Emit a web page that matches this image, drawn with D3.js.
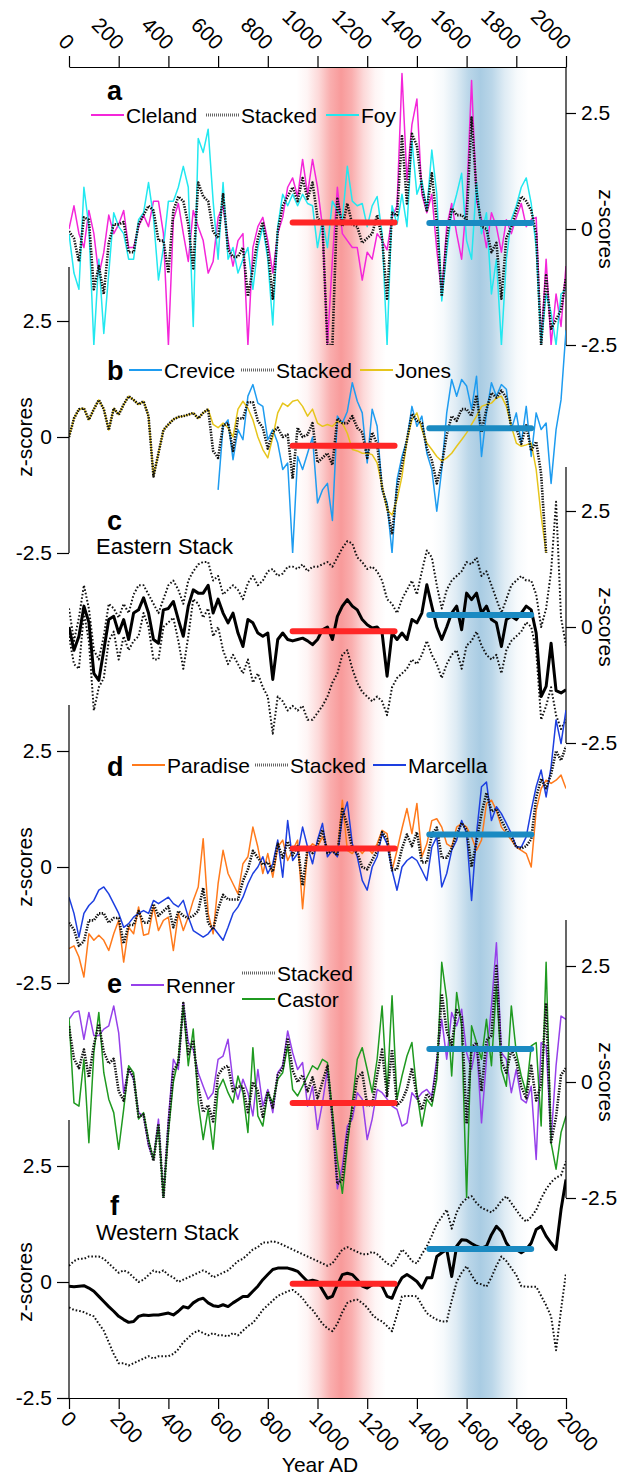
<!DOCTYPE html>
<html>
<head>
<meta charset="utf-8">
<script src="https://cdn.jsdelivr.net/npm/d3@7"></script>
<style>
  body { margin: 0; background: #fff; }
  svg { display: block; }
</style>
</head>
<body>
<div id="chart"></div>
<script>
// ---- data (z-scores, 20-year steps) ----
const years = [0,20,40,60,80,100,120,140,160,180,200,220,240,260,280,300,320,340,360,380,
  400,420,440,460,480,500,520,540,560,580,600,620,640,660,680,700,720,740,760,780,
  800,820,840,860,880,900,920,940,960,980,1000,1020,1040,1060,1080,1100,1120,1140,1160,1180,
  1200,1220,1240,1260,1280,1300,1320,1340,1360,1380,1400,1420,1440,1460,1480,1500,1520,1540,1560,1580,
  1600,1620,1640,1660,1680,1700,1720,1740,1760,1780,1800,1820,1840,1860,1880,1900,1920,1940,1960,1980,2000];
const yearTicks = [0,200,400,600,800,1000,1200,1400,1600,1800,2000];
const zTicks = [-2.5, 0, 2.5];

// panel a
const cleland = [0,0.5,-0.1,-0.4,0.4,-0.1,-1.0,-0.5,0.3,-0.1,
  0.1,0.4,-0.4,-0.4,0.05,0.3,0.05,0.6,0.6,-0.1,
  -2.5,0.2,0.55,-0.1,-0.7,0.4,0.05,-0.25,-0.95,-0.7,
  0.25,0.5,-0.25,-0.8,-0.25,-0.1,-2.5,-0.4,0.05,0.25,
  -0.25,-0.95,-0.1,0.25,0.9,1.1,0.7,1.5,0.75,1.5,
  0.9,0.05,-2.5,-0.65,0.9,-0.1,-0.25,-0.4,-0.4,-1.1,
  -0.5,-0.65,-0.1,-0.25,-0.45,0.25,0.5,3.35,1.05,2.25,
  2.8,0.75,0.35,0.75,-0.45,-1.4,0.05,0.55,-0.1,-0.65,
  0.6,3.2,0.6,0.2,-0.4,0.35,0.05,-0.5,0.2,-0.1,
  0.25,0.55,0.05,0.2,0.25,-2.5,-0.65,-2.5,-1.4,-2.1,
  -0.8];
const foy = [-0.1,-0.95,-1.3,0.9,0.05,-2.5,-0.65,-2.25,-0.95,0.35,
  0.05,-0.1,-0.65,-0.65,0.2,0.35,1.0,0.25,-1.1,-0.4,
  0.6,0.6,0.9,1.35,0.9,-2.1,1.95,1.65,2.15,0.6,
  -0.65,1.0,-0.65,-0.4,-0.95,-0.65,-0.4,-1.3,-0.4,0.05,
  -0.65,-2.07,0.05,0.75,0.5,0.75,0.5,0.75,0.55,0.5,
  -0.4,0.2,-0.4,0.6,0.4,0.2,1.35,0.6,0.5,0.55,
  0.05,0.5,0.7,-0.1,-2.5,0.5,0.1,0.75,0.05,1.9,
  0.75,1.05,0.4,1.7,0.75,-1.55,-0.5,0.35,0.75,1.2,
  -0.25,-0.65,1.0,-0.1,0.35,-1.4,-0.65,-2.5,-0.65,0.2,
  0.5,0.9,1.1,0.55,-0.4,-2.5,-1.4,-1.8,-2.5,-1.4,
  -1.3];
const stackA = [-0.05,-0.2,-0.7,0.25,0.2,-1.3,-0.8,-1.4,-0.3,0.1,
  0.1,0.15,-0.5,-0.5,0.1,0.3,0.5,0.4,-0.25,-0.25,
  -0.95,0.4,0.7,0.6,0.1,-0.85,1.0,0.7,0.6,-0.05,
  -0.2,0.75,-0.45,-0.6,-0.6,-0.4,-1.45,-0.85,-0.2,0.15,
  -0.45,-1.5,-0.05,0.5,0.7,0.9,0.6,1.1,0.65,1.0,
  0.25,0.1,-2.5,-2.5,0.65,0.05,0.55,0.1,0.05,-0.3,
  -0.2,-0.1,0.3,-0.2,-1.5,0.35,0.3,2.0,0.55,2.05,
  1.8,0.9,0.4,1.2,0.15,-1.45,-0.2,0.45,0.3,0.3,
  0.2,2.4,0.8,0.05,0.0,-0.5,-0.3,-1.5,-0.2,0.05,
  0.4,0.7,0.6,0.4,-0.1,-2.5,-1.0,-2.15,-1.95,-1.75,
  -1.05];

// panel b
const crevice = [null,null,null,null,null,null,null,null,null,null,
  null,null,null,null,null,null,null,null,null,null,
  null,null,null,null,null,null,null,null,null,null,
  -1.14,0.23,0.37,-0.49,0.16,-0.06,0.88,1.13,0.73,0.66,
  -0.06,0.16,-0.13,-0.7,-0.56,-2.5,-0.42,-0.7,-0.35,0.0,
  -1.42,-1.14,-1.0,-1.8,0.45,0.3,0.55,1.17,0.77,0.52,
  -0.56,0.6,0.23,-1.14,-1.42,-2.5,-0.92,-0.42,-0.06,0.66,
  0.23,0.45,-0.35,-0.7,-1.6,-0.7,0.52,1.24,0.88,1.24,
  1.1,0.6,1.31,-0.42,0.52,1.17,0.88,1.13,1.03,0.16,
  0.52,-0.13,0.66,-0.42,0.52,0.16,0.3,-1.0,0.16,0.8,
  2.3];
const jones = [0.0,0.4,0.6,0.62,0.37,0.6,0.8,0.6,0.15,0.62,
  0.48,0.7,0.88,0.8,0.7,0.77,0.45,-0.85,-0.35,0.15,
  0.27,0.38,0.43,0.45,0.48,0.52,0.4,0.52,0.6,0.27,
  0.2,0.3,0.2,0.0,0.6,0.77,0.62,0.37,0.0,-0.27,
  -0.45,0.0,0.52,0.73,0.66,0.77,0.8,0.66,0.45,0.6,
  0.3,0.23,0.27,0.23,0.34,0.3,0.08,-0.27,-0.3,-0.35,
  -0.35,-0.38,-0.56,-1.06,-1.57,-1.68,-1.35,-0.85,-0.06,0.37,
  0.52,0.16,-0.13,-0.27,-0.42,-0.52,-0.45,-0.35,-0.2,-0.06,
  0.09,0.27,0.45,0.66,0.7,0.73,0.84,0.88,0.66,0.23,
  -0.13,-0.2,-0.17,-0.13,-0.7,-1.7,-2.5,null,null,null,
  null];
const stackB = [0.0,0.4,0.6,0.62,0.37,0.6,0.8,0.6,0.15,0.62,
  0.48,0.7,0.88,0.8,0.7,0.77,0.45,-0.85,-0.35,0.15,
  0.27,0.38,0.43,0.45,0.48,0.52,0.4,0.52,0.6,-0.3,
  -0.45,0.25,0.3,-0.3,0.4,0.4,0.75,0.75,0.35,0.2,
  -0.25,0.1,0.2,0.0,0.05,-0.9,0.2,0.0,0.05,0.3,
  -0.55,-0.45,-0.35,-0.6,0.4,0.3,0.3,0.45,0.2,0.1,
  -0.45,0.1,-0.15,-1.1,-1.5,-2.1,-1.1,-0.6,-0.06,0.5,
  0.35,0.3,-0.25,-0.5,-1.0,-0.6,0.05,0.45,0.35,0.6,
  0.6,0.45,0.9,0.1,0.6,0.95,0.85,1.0,0.85,0.2,
  0.2,-0.15,0.25,-0.3,-0.1,-0.8,-2.5,null,null,null,
  null];

// panel c (Eastern stack with envelope)
const eastern = [0.0,-0.5,-0.2,0.45,0.1,-1.0,-1.15,-0.5,0.16,0.23,
  -0.13,0.16,-0.27,0.3,0.37,0.63,0.3,-0.27,-0.35,0.37,
  0.4,0.55,0.16,-0.2,0.45,0.8,0.73,0.73,0.9,0.3,
  0.6,0.3,0.09,0.3,-0.13,-0.42,0.16,0.09,-0.13,-0.2,
  -0.13,-1.13,-0.27,-0.13,-0.27,-0.3,-0.27,-0.24,-0.3,-0.38,
  -0.27,-0.06,0.0,-0.27,0.23,0.45,0.59,0.45,0.37,0.16,
  0.05,-0.02,0.0,-0.13,-1.06,-0.13,-0.27,-0.13,-0.27,0.16,
  0.09,0.3,0.91,0.45,0.0,-0.27,0.0,0.3,0.45,-0.06,
  0.73,0.59,0.73,0.3,0.45,0.16,0.09,-0.42,0.16,0.23,
  0.16,0.3,0.45,0.37,-0.13,-1.5,-1.28,-0.35,-1.37,-1.42,
  -1.35];
const easternHi = [0.4,-0.3,0.2,0.9,0.4,-0.5,-0.7,-0.2,0.5,0.4,
  0.2,0.5,0.3,0.7,0.9,0.9,0.7,0.5,0.3,0.6,
  0.9,1.0,0.8,0.5,1.0,1.2,1.35,1.4,1.4,1.0,
  1.1,0.7,0.8,0.9,0.8,0.6,0.95,1.1,0.9,1.0,
  1.2,1.25,1.1,1.15,1.3,1.3,1.25,1.35,1.2,1.3,
  1.3,1.35,1.4,1.3,1.5,1.7,1.85,1.8,1.5,1.4,
  1.25,1.3,1.2,1.0,0.6,0.5,0.3,0.6,0.8,1.0,
  0.7,1.2,1.65,1.5,0.9,0.4,0.8,1.0,1.1,1.2,
  1.4,1.35,1.5,1.1,1.2,0.9,0.6,0.3,0.6,0.9,
  1.0,1.1,1.0,1.0,0.7,0.0,0.4,1.2,2.7,0.2,
  -0.4];
const easternLo = [-0.2,-0.8,-0.9,0.3,-0.3,-1.8,-1.3,-1.1,-0.3,-0.1,
  -0.7,-0.2,-0.5,-0.3,-0.2,0.3,0.0,-0.7,-0.7,0.0,
  0.1,0.2,-0.3,-0.9,-0.2,0.6,0.5,0.2,0.4,-0.2,
  0.0,-0.5,-0.8,-0.6,-0.8,-1.0,-0.7,-1.2,-1.0,-1.3,
  -1.5,-2.3,-1.5,-1.6,-1.8,-1.7,-1.8,-1.7,-2.0,-2.0,
  -1.85,-1.7,-1.5,-1.2,-1.0,-0.6,-0.5,-0.9,-1.2,-1.4,
  -1.5,-1.6,-1.5,-1.6,-1.9,-1.3,-1.1,-1.0,-0.9,-0.7,
  -0.8,-0.6,-0.3,-0.6,-0.8,-1.1,-0.8,-0.6,-0.5,-0.9,
  -0.4,-0.3,-0.1,-0.4,-0.6,-0.7,-0.6,-1.0,-0.5,-0.3,
  -0.2,-0.1,0.1,0.0,-0.5,-2.0,-1.7,-1.3,-1.9,-2.2,
  -2.0];

// panel d
const paradise = [-1.76,-1.7,-1.94,-2.37,-1.44,-1.58,-1.47,-1.58,-1.8,-1.44,
  -1.15,-2.05,-1.3,-1.44,-0.86,-1.47,-1.44,-0.86,-1.37,-1.15,
  -1.08,-1.8,-1.0,-1.37,-1.08,-0.72,-0.43,0.61,-1.0,-1.44,
  -0.36,0.36,-0.14,-0.36,-0.58,0.07,0.22,0.86,0.43,-0.14,
  0.29,-0.22,0.43,0.58,0.14,0.36,0.58,-0.9,0.36,0.5,
  0.43,0.65,0.43,0.36,0.29,1.44,0.36,0.29,0.43,0.29,
  0.43,0.29,0.5,0.79,0.72,-0.07,0.36,0.83,1.26,0.72,
  1.37,0.22,0.5,1.0,1.04,0.86,0.5,0.43,0.86,0.94,
  0.86,0.65,0.36,0.58,1.37,1.44,1.22,0.86,0.72,0.58,
  0.43,0.36,0.29,0.0,1.22,1.69,1.87,1.8,1.87,1.98,
  1.69];
const marcella = [-0.65,-1.0,-1.51,-1.0,-0.83,-0.72,-0.5,-0.43,-0.58,-0.79,
  -1.0,-1.3,-1.22,-1.08,-1.0,-0.94,-1.0,-0.72,-0.79,-0.72,
  -0.65,-0.79,-0.86,-0.72,-1.08,-1.37,-1.44,-1.51,-1.44,-1.3,
  -1.44,-1.58,-1.3,-1.0,-0.86,-0.65,-0.36,-0.14,0.0,0.22,
  -0.14,0.07,0.58,-0.22,1.0,0.14,0.29,0.86,0.43,0.07,
  0.58,0.94,0.22,0.36,0.22,1.08,1.4,0.5,0.22,-0.29,
  -0.5,0.0,0.22,0.72,0.5,-0.07,-0.5,0.0,0.14,0.22,
  0.14,-0.07,-0.29,0.43,0.65,-0.43,-0.14,0.36,0.58,1.0,
  0.72,-0.72,0.72,1.73,1.83,1.0,1.3,1.15,0.94,0.72,
  0.43,0.43,0.65,1.22,1.73,2.09,1.51,2.16,3.17,2.66,
  3.38];
const stackD = [-1.2,-1.35,-1.7,-1.6,-1.15,-1.15,-1.0,-1.0,-1.2,-1.1,
  -1.1,-1.65,-1.25,-1.25,-0.95,-1.2,-1.2,-0.8,-1.05,-0.95,
  -0.85,-1.3,-0.95,-1.05,-1.1,-1.05,-0.95,-0.45,-1.2,-1.35,
  -0.9,-0.6,-0.7,-0.7,-0.7,-0.3,-0.05,0.35,0.2,0.05,
  0.1,-0.1,0.5,0.2,0.55,0.25,0.45,-0.4,0.4,0.3,
  0.5,0.8,0.3,0.35,0.25,1.25,0.9,0.4,0.3,0.0,
  -0.05,0.15,0.35,0.75,0.6,-0.07,-0.05,0.4,0.7,0.45,
  0.75,0.1,0.1,0.7,0.85,0.2,0.2,0.4,0.7,0.95,
  0.8,0.0,0.55,1.15,1.6,1.2,1.25,1.0,0.8,0.65,
  0.43,0.4,0.45,0.6,1.5,1.9,1.7,2.0,2.5,2.3,
  2.6];

// panel e
const renner = [1.35,1.5,1.53,0.92,1.5,1.0,1.0,1.14,1.21,1.64,
  1.06,-0.23,0.27,0.06,-0.66,-0.73,-1.38,-1.67,-0.8,-2.5,
  -0.8,0.49,0.27,1.71,0.85,0.7,0.2,-0.09,-0.37,-0.23,
  0.49,0.56,0.92,0.0,-0.37,0.06,-0.23,-0.73,0.27,-0.52,
  -0.16,-0.66,0.2,0.35,1.1,0.63,0.27,0.42,-0.52,-0.09,
  -1.02,-0.45,0.27,-0.8,-2.3,-1.81,-0.95,-0.8,-0.23,-0.37,
  -1.24,-0.8,-0.16,-0.23,-0.37,-0.52,-0.59,-0.95,-0.88,-0.23,
  -0.37,-0.23,-0.16,-0.3,0.49,1.35,0.49,1.5,1.21,1.57,
  0.63,0.27,0.85,-0.88,0.49,1.64,3.0,0.63,0.49,-0.23,
  0.27,-0.37,-0.45,-0.09,-1.67,0.85,0.78,-1.24,0.35,1.42,
  1.35];
const castor = [1.39,-0.45,-0.52,0.49,-1.31,0.63,1.5,0.2,-0.37,-0.66,
  -1.45,-0.59,0.35,0.2,-0.8,-0.66,-1.24,-1.67,-0.95,-2.5,
  -1.09,0.0,0.49,1.64,0.35,1.14,-0.45,-1.24,-0.59,-1.45,
  -0.16,0.06,-0.23,-0.45,0.13,-0.23,-1.09,0.74,-0.73,-0.95,
  -0.23,-0.45,0.06,0.2,0.78,-0.16,-0.3,-0.09,0.13,0.35,
  0.27,0.49,0.42,-0.66,-1.67,-2.4,-1.38,-0.45,0.49,0.74,
  0.27,-0.23,0.49,1.64,-0.23,1.86,-0.37,0.13,0.56,0.85,
  -0.23,-0.95,-0.37,-0.52,0.06,2.58,1.78,0.13,1.93,1.21,
  -2.5,1.21,0.85,0.49,1.35,0.35,2.07,0.27,-0.09,1.64,
  0.63,0.13,-0.23,0.78,0.85,-0.95,2.58,-1.31,-1.88,-1.09,
  -0.73];
const stackE = [1.2,0.5,0.3,0.7,0.1,0.8,1.25,0.65,0.4,0.5,
  -0.2,-0.4,0.3,0.1,-0.75,-0.7,-1.3,-1.7,-0.9,-2.5,
  -0.95,0.25,0.4,1.7,0.6,0.9,-0.1,-0.65,-0.5,-0.85,
  0.15,0.3,0.35,-0.2,-0.1,-0.1,-0.65,0.0,-0.2,-0.75,
  -0.2,-0.55,0.15,0.3,0.95,0.25,0.0,0.15,-0.2,0.1,
  -0.35,0.0,0.35,-0.75,-2.2,-2.1,-1.15,-0.6,0.1,0.2,
  -0.5,-0.5,0.15,0.7,-0.3,0.7,-0.5,-0.4,-0.15,0.3,
  -0.3,-0.6,-0.25,-0.4,0.3,1.9,1.1,0.8,1.55,1.4,
  -0.9,0.75,0.85,-0.2,0.9,1.0,2.5,0.45,0.2,0.7,
  0.45,-0.1,-0.35,0.35,-0.4,-0.05,1.7,-1.3,-0.75,0.15,
  0.3];

// panel f (Western stack with envelope)
const western = [-0.09,-0.1,-0.09,-0.08,-0.13,-0.2,-0.31,-0.42,-0.53,-0.63,
  -0.74,-0.81,-0.87,-0.85,-0.74,-0.71,-0.72,-0.71,-0.71,-0.69,
  -0.67,-0.71,-0.63,-0.53,-0.56,-0.45,-0.38,-0.35,-0.45,-0.51,
  -0.53,-0.49,-0.53,-0.45,-0.38,-0.31,-0.31,-0.2,-0.09,0.05,
  0.16,0.27,0.3,0.3,0.3,0.27,0.23,0.12,0.01,0.04,
  0.01,-0.17,-0.35,-0.31,-0.06,0.16,0.19,0.16,0.05,-0.09,
  -0.13,-0.06,-0.02,-0.09,-0.31,-0.35,-0.09,0.09,0.16,0.09,
  0.01,-0.13,0.09,0.09,0.55,0.63,0.7,0.12,0.77,0.91,
  0.9,0.83,0.77,0.73,0.77,1.02,1.2,1.09,0.84,0.7,
  0.7,0.63,0.7,0.84,1.13,1.2,0.99,0.84,0.7,1.56,
  2.21];
const westernHi = [0.35,0.45,0.5,0.5,0.55,0.55,0.55,0.5,0.4,0.3,
  0.2,0.25,0.2,0.1,0.0,0.05,0.15,0.25,0.2,0.25,
  0.15,0.1,0.0,0.05,0.1,0.15,0.2,0.25,0.2,0.1,
  0.15,0.2,0.25,0.35,0.45,0.5,0.6,0.7,0.75,0.85,
  0.85,0.88,0.85,0.8,0.75,0.7,0.65,0.6,0.55,0.5,
  0.45,0.4,0.35,0.4,0.55,0.7,0.75,0.7,0.65,0.6,
  0.6,0.65,0.6,0.5,0.4,0.35,0.5,0.7,0.6,0.45,
  0.4,0.6,0.77,1.0,1.25,1.4,1.56,1.15,1.5,1.7,
  1.8,1.85,1.7,1.6,1.55,1.5,1.6,1.75,1.85,1.7,
  1.55,1.4,1.3,1.4,1.55,1.8,2.0,2.15,2.25,2.3,
  2.6];
const westernLo = [-0.55,-0.6,-0.62,-0.65,-0.7,-0.74,-0.9,-1.05,-1.3,-1.55,
  -1.75,-1.75,-1.8,-1.75,-1.7,-1.65,-1.6,-1.65,-1.6,-1.6,
  -1.6,-1.55,-1.45,-1.3,-1.2,-1.1,-1.05,-1.1,-1.15,-1.1,
  -1.15,-1.15,-1.17,-1.1,-1.15,-1.05,-0.95,-0.88,-0.75,-0.6,
  -0.5,-0.4,-0.3,-0.25,-0.2,-0.17,-0.25,-0.35,-0.5,-0.6,
  -0.75,-0.9,-1.0,-1.06,-0.9,-0.65,-0.45,-0.4,-0.38,-0.45,
  -0.55,-0.7,-0.8,-0.85,-0.95,-1.06,-0.7,-0.31,-0.3,-0.3,
  -0.31,-0.5,-0.67,-0.75,-0.81,-0.85,-0.85,-0.4,0.0,0.2,
  0.34,0.15,-0.02,-0.05,-0.1,0.1,0.35,0.55,0.45,0.3,
  0.15,-0.09,-0.1,-0.1,-0.1,-0.3,-0.5,-0.74,-1.47,-0.6,
  0.2];

// period means (panels a..f) for the warm and cold windows
const warmPeriod = [900, 1310];
const coldPeriod = [1450, 1860];
const warmMeans = [0.14, -0.19, -0.09, 0.4, -0.45, -0.04];
const coldMeans = [0.13, 0.19, 0.26, 0.7, 0.71, 0.71];

// ---- drawing ----
const W = 620, H = 1479;
const FONT = '"Liberation Sans", Arial, Helvetica, sans-serif';
const svg = d3.select('#chart').append('svg')
  .attr('width', W).attr('height', H)
  .attr('font-family', FONT);

const x = d3.scaleLinear().domain([0, 2000]).range([69, 566]);
const axisTop = 67, axisBottom = 1398;
const halfSpan = 116; // px for 2.5 z

const defs = svg.append('defs');
function bandGradient(id, color) {
  const g = defs.append('linearGradient').attr('id', id).attr('x1', 0).attr('x2', 1).attr('y1', 0).attr('y2', 0);
  const stops = [[0, 0], [0.12, 0.1], [0.25, 0.38], [0.38, 0.8], [0.5, 1], [0.62, 0.8], [0.75, 0.38], [0.88, 0.1], [1, 0]];
  stops.forEach(([o, a]) => g.append('stop').attr('offset', o).attr('stop-color', color).attr('stop-opacity', a));
}
bandGradient('warm', '#f89a9a');
bandGradient('cold', '#a9cce3');

svg.append('rect').attr('x', x(915)).attr('width', x(1275) - x(915))
  .attr('y', axisTop).attr('height', axisBottom - axisTop).attr('fill', 'url(#warm)');
svg.append('rect').attr('x', x(1460)).attr('width', x(1850) - x(1460))
  .attr('y', axisTop).attr('height', axisBottom - axisTop).attr('fill', 'url(#cold)');

// year axes
const yearFmt = d => String(d);
const topAx = svg.append('g').attr('transform', `translate(0,${axisTop})`)
  .call(d3.axisTop(x).tickValues(yearTicks).tickFormat(yearFmt).tickSize(11).tickSizeOuter(0));
topAx.selectAll('text').attr('y', null).attr('dy', null)
  .attr('text-anchor', 'end').attr('transform', 'translate(-4,-16) rotate(45)');
const botAx = svg.append('g').attr('transform', `translate(0,${axisBottom})`)
  .call(d3.axisBottom(x).tickValues(yearTicks).tickFormat(yearFmt).tickSize(11).tickSizeOuter(0));
botAx.selectAll('text').attr('y', null).attr('dy', null)
  .attr('text-anchor', 'start').attr('transform', 'translate(-10,22) rotate(45)');
[topAx, botAx].forEach(g => {
  g.attr('font-family', FONT).attr('font-size', 21);
  g.selectAll('line,path').attr('stroke', '#000').attr('stroke-width', 1.2);
});
svg.append('text').attr('x', 320).attr('y', 1472).attr('text-anchor', 'middle')
  .attr('font-size', 21).text('Year AD');

const panels = [
  { key: 'a', zero: 229, top: axisTop, side: 'right',
    series: [{ d: cleland, c: '#f426d9' }, { d: foy, c: '#22e8f0' }, { d: stackA, stacked: true }],
    legend: [{ x: 91, y: 115, c: '#f426d9', t: 'Cleland' }, { x: 206, y: 115, stacked: true, t: 'Stacked' }, { x: 326, y: 115, c: '#22e8f0', t: 'Foy' }],
    letter: [107, 100] },
  { key: 'b', zero: 437, top: 267, side: 'left',
    series: [{ d: crevice, c: '#1e9cf0' }, { d: jones, c: '#e6c51c' }, { d: stackB, stacked: true }],
    legend: [{ x: 129, y: 370, c: '#1e9cf0', t: 'Crevice' }, { x: 241, y: 370, stacked: true, t: 'Stacked' }, { x: 360, y: 370, c: '#e6c51c', t: 'Jones' }],
    letter: [107, 380] },
  { key: 'c', zero: 627, top: 467, side: 'right',
    series: [{ d: easternHi, env: true }, { d: easternLo, env: true }, { d: eastern, solid: true }],
    legend: [], title: 'Eastern Stack', titleY: 554,
    letter: [107, 530] },
  { key: 'd', zero: 867, top: 705, side: 'left',
    series: [{ d: paradise, c: '#ff7a1c' }, { d: marcella, c: '#1d3fe0' }, { d: stackD, stacked: true }],
    legend: [{ x: 132, y: 765, c: '#ff7a1c', t: 'Paradise' }, { x: 255, y: 765, stacked: true, t: 'Stacked' }, { x: 373, y: 765, c: '#1d3fe0', t: 'Marcella' }],
    letter: [107, 776] },
  { key: 'e', zero: 1082, top: 920, side: 'right',
    series: [{ d: renner, c: '#9641ea' }, { d: castor, c: '#1f9a20' }, { d: stackE, stacked: true }],
    legend: [{ x: 131, y: 985, c: '#9641ea', t: 'Renner' }, { x: 242, y: 973, stacked: true, t: 'Stacked' }, { x: 242, y: 999, c: '#1f9a20', t: 'Castor' }],
    letter: [107, 993] },
  { key: 'f', zero: 1282, top: 1120, side: 'left',
    series: [{ d: westernHi, env: true }, { d: westernLo, env: true }, { d: western, solid: true }],
    legend: [], title: 'Western Stack', titleY: 1240,
    letter: [110, 1215] }
];

panels.forEach((p, pi) => {
  const y = d3.scaleLinear().domain([-2.5, 2.5]).range([p.zero + halfSpan, p.zero - halfSpan]);
  const bottom = y(-2.5);
  const clipId = 'clip-' + p.key;
  defs.append('clipPath').attr('id', clipId).append('rect')
    .attr('x', x(0)).attr('width', x(2000) - x(0))
    .attr('y', p.top).attr('height', bottom - p.top);

  const line = d3.line().defined(d => d[1] != null).x(d => x(d[0])).y(d => y(d[1]));
  const gl = svg.append('g').attr('clip-path', `url(#${clipId})`);
  p.series.forEach(s => {
    const pts = years.map((yr, i) => [yr, s.d[i]]);
    const path = gl.append('path').datum(pts).attr('d', line).attr('fill', 'none')
      .attr('stroke-linejoin', 'round');
    if (s.stacked) path.attr('stroke', '#111').attr('stroke-width', 2.6).attr('stroke-dasharray', '1.4,1.3');
    else if (s.env) path.attr('stroke', '#111').attr('stroke-width', 2).attr('stroke-dasharray', '1.6,2');
    else if (s.solid) path.attr('stroke', '#000').attr('stroke-width', 3);
    else path.attr('stroke', s.c).attr('stroke-width', 1.5);
  });

  // period means
  svg.append('line').attr('x1', x(warmPeriod[0])).attr('x2', x(warmPeriod[1]))
    .attr('y1', y(warmMeans[pi])).attr('y2', y(warmMeans[pi]))
    .attr('stroke', '#ff2626').attr('stroke-width', 6).attr('stroke-linecap', 'round');
  svg.append('line').attr('x1', x(coldPeriod[0])).attr('x2', x(coldPeriod[1]))
    .attr('y1', y(coldMeans[pi])).attr('y2', y(coldMeans[pi]))
    .attr('stroke', '#1a8ac2').attr('stroke-width', 6).attr('stroke-linecap', 'round');

  // z axis
  const right = p.side === 'right';
  const ax = right ? x(2000) : x(0);
  svg.append('line').attr('x1', ax).attr('x2', ax).attr('y1', p.top).attr('y2', bottom)
    .attr('stroke', '#000').attr('stroke-width', 1.2);
  const axis = (right ? d3.axisRight(y).tickSize(10) : d3.axisLeft(y).tickSize(12))
    .tickValues(zTicks).tickPadding(5).tickFormat(d => d === 0 ? '0' : String(d));
  const ga = svg.append('g').attr('transform', `translate(${ax},0)`).call(axis);
  ga.select('.domain').remove();
  ga.attr('font-family', FONT).attr('font-size', 21);
  ga.selectAll('line').attr('stroke', '#000').attr('stroke-width', 1.2);

  svg.append('text')
    .attr('transform', right ? `translate(599,${p.zero}) rotate(90)` : `translate(32,${p.zero}) rotate(-90)`)
    .attr('text-anchor', 'middle').attr('font-size', 21).text('z-scores');

  // panel letter, legend
  svg.append('text').attr('x', p.letter[0]).attr('y', p.letter[1])
    .attr('font-size', 27).attr('font-weight', 'bold').text(p.key);
  if (p.title) {
    svg.append('text').attr('x', 96).attr('y', p.titleY).attr('font-size', 22).text(p.title);
  }
  p.legend.forEach(l => {
    const ln = svg.append('line').attr('x1', l.x).attr('x2', l.x + 33).attr('y1', l.y).attr('y2', l.y);
    if (l.stacked) ln.attr('stroke', '#666').attr('stroke-width', 3).attr('stroke-dasharray', '1,1');
    else ln.attr('stroke', l.c).attr('stroke-width', 1.8);
    svg.append('text').attr('x', l.x + 35).attr('y', l.y + 7.5).attr('font-size', 21).text(l.t);
  });
});
</script>
</body>
</html>
